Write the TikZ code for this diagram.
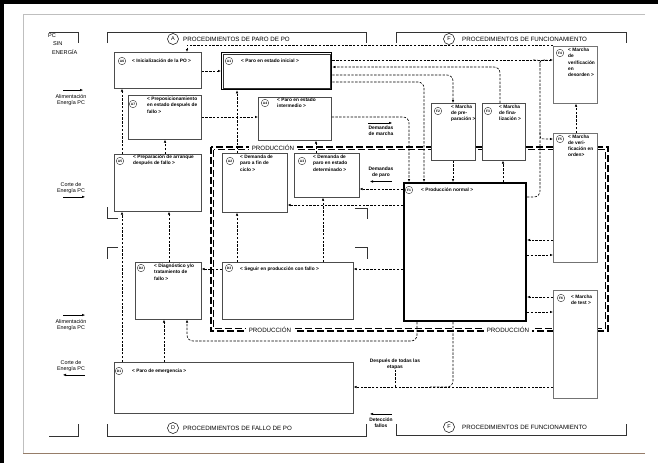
\documentclass[tikz,border=0pt]{standalone}
\usepackage{fontspec}
\setmainfont{Liberation Sans}
\usetikzlibrary{arrows.meta, positioning}

\definecolor{pie}{RGB}{150,125,105}

\tikzset{
  etapa/.style={draw=black!70, line width=0.6pt, fill=white, anchor=north west, inner sep=0pt},
  num/.style={circle, draw=black!80, line width=0.4pt, inner sep=0pt, minimum size=7.5pt, font=\fontsize{3.3}{3.3}\selectfont\bfseries},
  txt/.style={anchor=north west, align=left, inner sep=0pt, font=\fontsize{4.8}{6.2}\selectfont\bfseries},
  enlace/.style={dash pattern=on 2.4pt off 1.4pt, line width=0.6pt, black},
  titulo/.style={font=\fontsize{6.2}{7}\selectfont, inner sep=0pt, anchor=west},
  letra/.style={circle, draw, line width=0.5pt, inner sep=0pt, minimum size=11pt, font=\fontsize{5.5}{6}\selectfont},
  lado/.style={align=center, inner sep=0pt, font=\fontsize{5.4}{6.4}\selectfont},
  nota/.style={align=center, inner sep=0pt, font=\fontsize{4.9}{6}\selectfont\bfseries},
  marco/.style={line width=0.6pt, black!80},
  prod/.style={dash pattern=on 7pt off 3pt},
  >={Latex[length=3pt,width=2.5pt]}
}

\begin{document}
\begin{tikzpicture}[x=1pt, y=-1pt]
\useasboundingbox (0,0) rectangle (658,463);

% Bordes
\draw[line width=3.5pt] (2,463) -- (2,2) -- (658,2);
\draw[black!25, line width=0.7pt] (645,14) -- (23,14) -- (23,453);
\draw[pie, line width=0.7pt] (23,453) -- (645,453);

% Corchetes superiores
\draw[marco] (49,32) -- (78,32) -- (78,43);
\node[lado, align=left, anchor=north west, font=\fontsize{5.6}{8.6}\selectfont] (pcsin) at (48,33) {PC\\\hspace*{5pt}SIN\\\hspace*{4pt}ENERGÍA};
\draw[marco] (107,43) -- (107,32) -- (366,32) -- (366,43);
\node[letra] (cA) at (173,39) {A};
\node[titulo] (tA) at (183,39) {PROCEDIMIENTOS DE PARO DE PO};
\draw[marco] (396,43) -- (396,32) -- (626,32) -- (626,43);
\node[letra] (cF) at (449,39) {F};
\node[titulo] (tF) at (462,39) {PROCEDIMIENTOS DE FUNCIONAMIENTO};

% Corchetes inferiores
\draw[marco] (49,436) -- (78,436) -- (78,424);
\draw[marco] (107,424) -- (107,436) -- (366,436) -- (366,424);
\node[letra] (cD) at (173,428) {D};
\node[titulo] (tD) at (183,428) {PROCEDIMIENTOS DE FALLO DE PO};
\draw[marco] (396,424) -- (396,435) -- (626,435) -- (626,424);
\node[letra] (cF2) at (449,427) {F};
\node[titulo] (tF2) at (462,427) {PROCEDIMIENTOS DE FUNCIONAMIENTO};

% Corchetes intermedios
\draw[marco] (107,207) -- (107,218) -- (118,218);
\draw[marco] (118,247) -- (107,247) -- (107,259);
\draw[marco] (355,208) -- (367,208) -- (367,219);
\draw[marco] (355,247) -- (367,247) -- (367,259);

% Alimentacion y corte
\node[lado] (alim1) at (71,100) {Alimentación\\Energía PC};
\draw[->] ([xshift=-8pt,yshift=4pt]alim1.north) -- ([xshift=12pt,yshift=4pt]alim1.north);
\node[lado] (corte1) at (71,188) {Corte de\\Energía PC};
\draw[->] ([xshift=-8pt,yshift=-3pt]corte1.south) -- ([xshift=14pt,yshift=-3pt]corte1.south);
\node[lado] (alim2) at (71,325) {Alimentación\\Energía PC};
\draw[->] ([xshift=-8pt,yshift=4pt]alim2.north) -- ([xshift=14pt,yshift=4pt]alim2.north);
\node[lado] (corte2) at (71,366) {Corte de\\Energía PC};
\draw[<-] ([xshift=-8pt,yshift=-3pt]corte2.south) -- ([xshift=14pt,yshift=-3pt]corte2.south);

% Zona de produccion
\draw[prod, line width=1.1pt] (211,147) rectangle (608,331);
\draw[prod, line width=0.6pt] (213.6,149.6) rectangle (605.4,328.4);
\node[titulo, anchor=center, fill=white, inner xsep=3pt, inner ysep=1.5pt] (prod1) at (273,148) {PRODUCCIÓN};
\node[titulo, anchor=center, fill=white, inner xsep=3pt, inner ysep=1.5pt] (prod2) at (270,330) {PRODUCCIÓN};
\node[titulo, anchor=center, fill=white, inner xsep=3pt, inner ysep=1.5pt] (prod3) at (508,330) {PRODUCCIÓN};

% Etapas A
\node[etapa, minimum width=87pt, minimum height=36pt] (A6) at (114,52) {};
\node[etapa, draw=black, line width=1.3pt, minimum width=110pt, minimum height=37pt] (A1) at (221,52) {};
\draw[black!80, line width=0.4pt] ([shift={(2.2pt,-2.2pt)}]A1.north west) rectangle ([shift={(-2.2pt,2.2pt)}]A1.south east);
\node[etapa, minimum width=73pt, minimum height=44pt] (A7) at (128,95) {};
\node[etapa, minimum width=73pt, minimum height=43pt] (A4) at (258,97) {};
\node[etapa, minimum width=87pt, minimum height=57pt] (A5) at (114,154) {};
\node[etapa, minimum width=65pt, minimum height=59pt] (A2) at (222,153) {};
\node[etapa, minimum width=65pt, minimum height=44pt] (A3) at (294,153) {};

% Etapas D
\node[etapa, minimum width=66pt, minimum height=57pt] (D2) at (135,262) {};
\node[etapa, minimum width=131pt, minimum height=57pt] (D3) at (222,262) {};
\node[etapa, minimum width=239pt, minimum height=51pt] (D1) at (114,362) {};

% Etapas F
\node[etapa, draw=black, line width=2pt, minimum width=122pt, minimum height=138pt] (F1) at (403,182) {};
\node[etapa, minimum width=44pt, minimum height=57pt] (F2) at (431,103) {};
\node[etapa, minimum width=43pt, minimum height=57pt] (F3) at (482,103) {};
\node[etapa, draw=black!55, minimum width=44pt, minimum height=57pt] (F4) at (553,46) {};
\node[etapa, draw=black!55, minimum width=44pt, minimum height=129pt] (F5) at (553,133) {};
\node[etapa, draw=black!55, minimum width=44pt, minimum height=108pt] (F6) at (553,290) {};

% Numeros y textos
\node[num] (nA6) at ([xshift=8pt,yshift=-9pt]A6.north west) {A6};
\node[txt, anchor=west] (tA6) at ([xshift=18pt,yshift=-9pt]A6.north west) {< Inicialización de la PO >};
\node[num] (nA1) at ([xshift=8pt,yshift=-9pt]A1.north west) {A1};
\node[txt, anchor=west] (tA1) at ([xshift=20pt,yshift=-9pt]A1.north west) {< Paro en estado inicial >};
\node[num] (nA7) at ([xshift=5pt,yshift=-9pt]A7.north west) {A7};
\node[txt] (tA7) at ([xshift=19pt,yshift=-2pt]A7.north west) {< Preposicionamiento\\en estado después de\\fallo >};
\node[num] (nA4) at ([xshift=7pt,yshift=-6pt]A4.north west) {A4};
\node[txt] (tA4) at ([xshift=19pt,yshift=-1pt]A4.north west) {< Paro en estado\\intermedio >};
\node[num] (nA5) at ([xshift=6pt,yshift=-7pt]A5.north west) {A5};
\node[txt] (tA5) at ([xshift=19pt,yshift=-1pt]A5.north west) {< Preparación de arranque\\después de fallo >};
\node[num] (nA2) at ([xshift=8pt,yshift=-8pt]A2.north west) {A2};
\node[txt] (tA2) at ([xshift=18pt,yshift=-2pt]A2.north west) {< Demanda de\\paro a fin de\\ciclo >};
\node[num] (nA3) at ([xshift=8pt,yshift=-8pt]A3.north west) {A3};
\node[txt] (tA3) at ([xshift=19pt,yshift=-2pt]A3.north west) {< Demanda de\\paro en estado\\determinado >};
\node[num] (nD2) at ([xshift=6pt,yshift=-6pt]D2.north west) {D2};
\node[txt] (tD2) at ([xshift=19pt,yshift=-2pt]D2.north west) {< Diagnóstico y/o\\tratamiento de\\fallo >};
\node[num] (nD3) at ([xshift=7pt,yshift=-6pt]D3.north west) {D3};
\node[txt, anchor=west] (tD3) at ([xshift=18pt,yshift=-7pt]D3.north west) {< Seguir en producción con fallo >};
\node[num] (nD1) at ([xshift=5pt,yshift=-9pt]D1.north west) {D1};
\node[txt, anchor=west] (tD1) at ([xshift=18pt,yshift=-9pt]D1.north west) {< Paro de emergencia >};
\node[num] (nF1) at ([xshift=6pt,yshift=-8pt]F1.north west) {F1};
\node[txt, anchor=west] (tF1) at ([xshift=18pt,yshift=-8pt]F1.north west) {< Producción normal >};
\node[num] (nF2) at ([xshift=7pt,yshift=-8pt]F2.north west) {F2};
\node[txt] (tF2) at ([xshift=20pt,yshift=-1.5pt]F2.north west) {< Marcha\\de pre-\\paración >};
\node[num] (nF3) at ([xshift=6pt,yshift=-8pt]F3.north west) {F3};
\node[txt] (tF3) at ([xshift=17pt,yshift=-1.5pt]F3.north west) {< Marcha\\de fina-\\lización >};
\node[num] (nF4) at ([xshift=7pt,yshift=-7pt]F4.north west) {F4};
\node[txt] (tF4) at ([xshift=15pt,yshift=-2pt]F4.north west) {< Marcha\\de\\verificación\\en\\desorden >};
\node[num] (nF5) at ([xshift=7pt,yshift=-6pt]F5.north west) {F5};
\node[txt] (tF5) at ([xshift=15pt,yshift=-1.5pt]F5.north west) {< Marcha\\de veri-\\ficación en\\orden>};
\node[num] (nF6) at ([xshift=8pt,yshift=-8pt]F6.north west) {F6};
\node[txt] (tF6) at ([xshift=18pt,yshift=-5pt]F6.north west) {< Marcha\\de test >};

% Notas
\node[nota] (dmarcha) at (381,131) {Demandas\\de marcha};
\draw[->] ([xshift=-13pt,yshift=3pt]dmarcha.north) -- ([xshift=11pt,yshift=3pt]dmarcha.north);
\node[nota] (dparo) at (381,172) {Demandas\\de paro};
\draw[<-] ([xshift=-11pt,yshift=-4pt]dparo.south) -- ([xshift=11pt,yshift=-4pt]dparo.south);
\node[nota] (etapas) at (395,364) {Después de todas las\\etapas};
\node[nota] (deteccion) at (381,423) {Detección\\fallos};
\draw[<-] ([xshift=-11pt,yshift=4pt]deteccion.north) -- ([xshift=11pt,yshift=4pt]deteccion.north);

% Enlaces
\draw[enlace,->] (A6.east |- 0,71) -- (A1.west |- 0,71);
\draw[enlace,->] (A7.east |- 0,117) -- (A4.west |- 0,117);
\draw[enlace,->] (A5.north -| 165,0) -- (A7.south -| 165,0);
\draw[enlace,->] (A5.north -| 122,0) -- (A6.south -| 122,0);
\draw[enlace,->] (D1.north -| 122,0) -- (A5.south -| 122,0);
\draw[enlace,->] (D2.north -| 169,0) -- (A5.south -| 169,0);
\draw[enlace,->] (D3.west |- 0,269) -- (D2.east |- 0,269);
\draw[enlace,->] (D1.north -| 164,0) -- (D2.south -| 164,0);
\draw[enlace,->,rounded corners=6pt] (F1.south -| 417,0) -- (417,341) -- (187,341) -- (D2.south -| 187,0);
\draw[enlace,->] (F6.west |- 0,387) -- (D1.east |- 0,387);
\draw[enlace,rounded corners=6pt] (F1.south -| 453,0) -- (453,387) -- (430,387);
\draw[enlace] (etapas.south) -- (etapas.south |- 0,387);
\draw[enlace,->] (D3.north -| 237,0) -- (A2.south -| 237,0);
\draw[enlace,->] (D3.north -| 323,0) -- (A3.south -| 323,0);
\draw[enlace,->] (F1.west |- 0,205) -- (A2.east |- 0,205);
\draw[enlace,->] (F1.west |- 0,189) -- (A3.east |- 0,189);
\draw[enlace,->] (F1.west |- 0,269) -- (D3.east |- 0,269);
\draw[enlace,->] (A2.north -| 237,0) -- (A1.south -| 237,0);
\draw[enlace,->] (A3.north -| 316,0) -- (A4.south -| 316,0);
\draw[enlace,->,rounded corners=6pt] (A4.east |- 0,117) -| (F1.north -| 409,0);
\draw[enlace,->] (A1.east |- 0,60) -- (F4.west |- 0,60);
\draw[enlace,->,rounded corners=6pt] (F3.north -| 500,0) |- (A1.east |- 0,67);
\draw[enlace,->,rounded corners=6pt] (A1.east |- 0,75) -| (F2.north -| 453,0);
\draw[enlace,->,rounded corners=6pt] (A1.east |- 0,82) -| (F1.north -| 424,0);
\draw[enlace,->] (F2.south -| 453,0) -- (F1.north -| 453,0);
\draw[enlace,->] (F1.north -| 503,0) -- (F3.south -| 503,0);
\draw[enlace,->] (F5.west |- 0,240) -- (F1.east |- 0,240);
\draw[enlace,->] (F1.east |- 0,255) -- (F5.west |- 0,255);
\draw[enlace,->] (F6.west |- 0,297) -- (F1.east |- 0,297);
\draw[enlace,->] (F1.east |- 0,312) -- (F6.west |- 0,312);
\draw[enlace,->] (F5.north -| 576,0) -- (F4.south -| 576,0);
\draw[enlace,rounded corners=6pt] (F1.east |- 0,197) -| (540,66);
\draw[enlace] (533,60) .. controls (540,60) .. (540,66) .. controls (540,60) .. (547,60);
\draw[enlace,->] (540,132) .. controls (540,139) .. (546,139) -- (F5.west |- 0,139);
\draw[enlace,->] ([yshift=1pt]F4.north west) -| (A6.north -| 187,0);
\end{tikzpicture}
\end{document}
